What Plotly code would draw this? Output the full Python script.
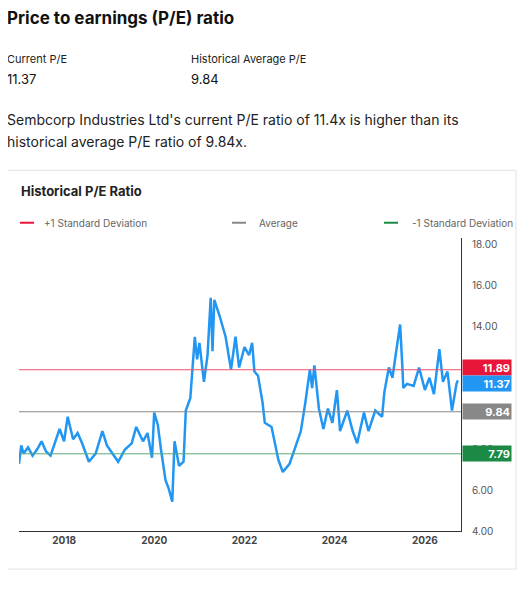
import pandas as pd
import plotly.graph_objects as go

# decimal year -> P/E
years = [2017.0, 2017.05, 2017.1, 2017.2, 2017.3, 2017.4, 2017.5, 2017.6, 2017.7, 2017.8, 2017.9,
         2018.0, 2018.08, 2018.2, 2018.3, 2018.4, 2018.55, 2018.7, 2018.85, 2018.95, 2019.1,
         2019.2, 2019.35, 2019.5, 2019.6, 2019.75, 2019.85, 2019.95, 2020.0, 2020.08, 2020.15,
         2020.25, 2020.32, 2020.4, 2020.45, 2020.55, 2020.65, 2020.7, 2020.8, 2020.85, 2020.9,
         2020.95, 2021.0, 2021.1, 2021.18, 2021.25, 2021.29, 2021.33, 2021.45, 2021.58, 2021.7,
         2021.8, 2021.88, 2022.0, 2022.1, 2022.17, 2022.22, 2022.3, 2022.4, 2022.45, 2022.6,
         2022.75, 2022.85, 2023.0, 2023.1, 2023.25, 2023.35, 2023.45, 2023.5, 2023.55, 2023.65,
         2023.75, 2023.85, 2023.95, 2024.05, 2024.12, 2024.28, 2024.4, 2024.5, 2024.65, 2024.75,
         2024.9, 2025.05, 2025.1, 2025.2, 2025.28, 2025.35, 2025.45, 2025.5, 2025.52, 2025.6,
         2025.75, 2025.87, 2026.0, 2026.1, 2026.2, 2026.32, 2026.4, 2026.5, 2026.6, 2026.7, 2026.73]
pe = [7.3, 8.2, 7.8, 8.1, 7.7, 8.0, 8.4, 7.9, 7.7, 8.3, 9.0,
      8.4, 9.6, 8.5, 8.8, 8.3, 7.4, 7.8, 8.9, 8.2, 7.7,
      7.4, 8.0, 8.3, 9.1, 8.4, 8.8, 7.6, 9.8, 9.2, 8.0,
      6.5, 6.1, 5.45, 8.4, 7.2, 7.4, 9.9, 10.5, 12.0, 13.5,
      12.4, 13.2, 11.3, 12.6, 15.4, 12.8, 15.3, 14.5, 13.5, 11.9,
      13.5, 12.0, 13.0, 12.6, 13.2, 11.8, 11.6, 10.3, 9.3, 9.1,
      7.5, 6.9, 7.3, 7.9, 8.9, 10.3, 11.9, 11.0, 12.1, 10.0,
      9.0, 10.0, 9.3, 10.9, 8.9, 9.9, 8.9, 8.3, 9.8, 8.9,
      9.9, 9.6, 10.8, 12.0, 11.5, 12.6, 14.1, 12.0, 11.0, 11.2,
      11.1, 12.0, 10.9, 11.5, 10.7, 12.9, 11.3, 11.8, 9.9, 11.2, 11.37]

plus_sd = 11.89
average = 9.84
minus_sd = 7.79
current = 11.37

# the page body has an 8px margin, so the figure is sized to fit inside it
W, H, OFF = 515, 575, 8


def px(x):
    return (x - OFF) / W


def py(y):
    return 1 - (y - OFF) / H


def to_date(y):
    yr = int(y)
    start = pd.Timestamp(year=yr, month=1, day=1)
    return start + pd.Timedelta(days=(y - yr) * 365.25)


dates = [to_date(y) for y in years]

fig = go.Figure()
fig.add_trace(go.Scatter(x=dates, y=pe, mode="lines",
                         line=dict(color="#2196f3", width=2.5), hoverinfo="x+y"))

labels = [(plus_sd, "#f0506e", "#e8173a", 2), (average, "#888888", "#888888", 0),
          (minus_sd, "#5aa878", "#1a8a45", 0)]
for val, lc, bc, shift in labels:
    fig.add_shape(type="line", xref="x domain", x0=0, x1=1, y0=val, y1=val,
                  line=dict(color=lc, width=1))
    fig.add_annotation(xref="paper", x=px(462), y=val, xanchor="left", text=f"<b>{val:.2f}</b>",
                       showarrow=False, bgcolor=bc, font=dict(color="white", size=11),
                       borderpad=1, width=46, height=13, align="right", yshift=shift)
fig.add_annotation(xref="paper", x=px(462), y=current, xanchor="left", text=f"<b>{current:.2f}</b>",
                   showarrow=False, bgcolor="#2196f3", font=dict(color="white", size=11),
                   borderpad=1, width=46, height=13, align="right", yshift=-3)

# card
fig.add_shape(type="rect", xref="paper", yref="paper", x0=px(5), x1=px(516),
              y0=py(575), y1=py(172), line=dict(color="#e2e2e2", width=1),
              fillcolor="rgba(0,0,0,0)", layer="below")

texts = [
    (5, 18, "<b>Price to earnings (P/E) ratio</b>", 17, "#111"),
    (5, 60, "Current P/E", 11, "#222"),
    (5, 80, "11.37", 13, "#111"),
    (189, 60, "Historical Average P/E", 11, "#222"),
    (189, 80, "9.84", 13, "#111"),
    (5, 121, "Sembcorp Industries Ltd's current P/E ratio of 11.4x is higher than its", 14, "#222"),
    (5, 143, "historical average P/E ratio of 9.84x.", 14, "#222"),
    (19, 193, "<b>Historical P/E Ratio</b>", 13, "#222"),
    (42, 225, "+1 Standard Deviation", 10, "#666"),
    (257, 225, "Average", 10, "#666"),
    (410, 225, "-1 Standard Deviation", 10, "#666"),
]
for x, y, t, s, c in texts:
    fig.add_annotation(xref="paper", yref="paper", x=px(x), y=py(y), xanchor="left",
                       yanchor="middle", text=t, showarrow=False, font=dict(size=s, color=c))
for x0, c in [(20, "#e8173a"), (232, "#888888"), (384, "#1a8a45")]:
    fig.add_shape(type="line", xref="paper", yref="paper", x0=px(x0), x1=px(x0 + 14),
                  y0=py(225), y1=py(225), line=dict(color=c, width=2))

fig.update_layout(
    width=W, height=H, margin=dict(l=0, r=0, t=0, b=0),
    paper_bgcolor="white", plot_bgcolor="white", showlegend=False,
    font=dict(family="Inter, Roboto, sans-serif"),
    xaxis=dict(domain=[px(19), px(461)], range=[to_date(2017.0), to_date(2026.8)],
               showgrid=False, showline=True, linecolor="#333", linewidth=1,
               tickvals=[to_date(y) for y in [2018, 2020, 2022, 2024, 2026]],
               ticktext=["<b>2018</b>", "<b>2020</b>", "<b>2022</b>", "<b>2024</b>", "<b>2026</b>"],
               tickfont=dict(size=10, color="#444"), ticks=""),
    yaxis=dict(domain=[py(537), py(240.8)], range=[4, 18.3], side="right",
               showgrid=False, showline=True, linecolor="#333", linewidth=1,
               tickvals=[4, 6, 8, 10, 12, 14, 16, 18], tickformat=".2f",
               tickfont=dict(size=10, color="#555"), ticks="", ticklabelstandoff=8),
)

fig.write_html("out.html")
